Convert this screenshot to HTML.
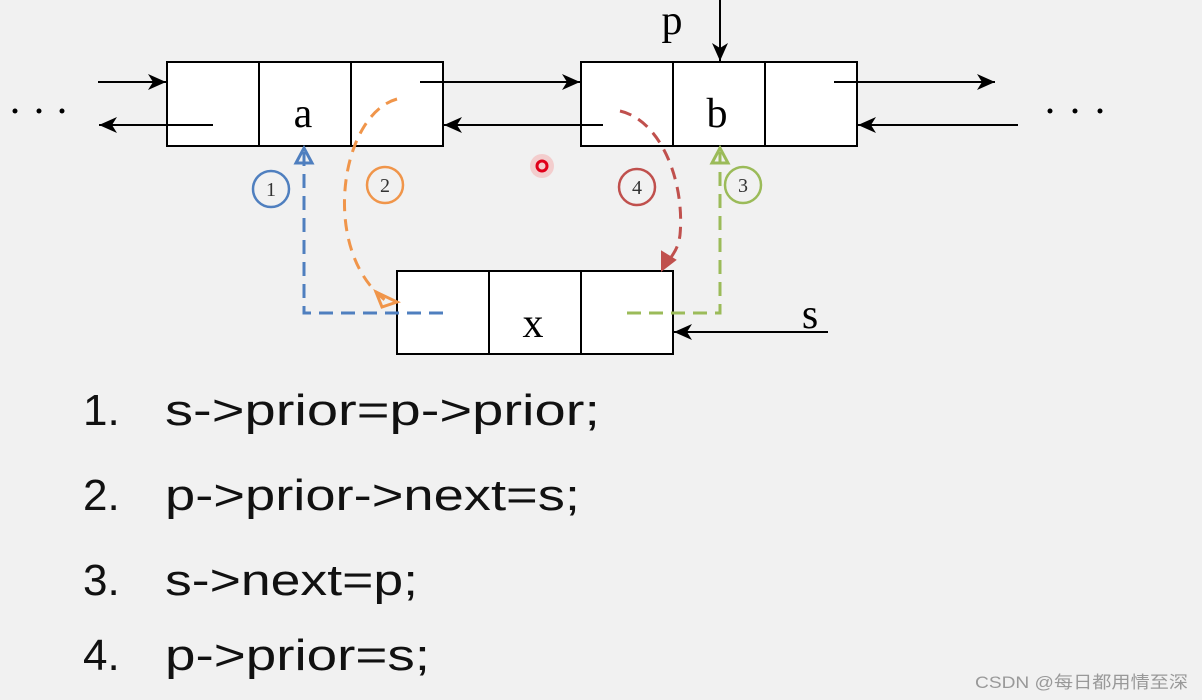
<!DOCTYPE html>
<html><head><meta charset="utf-8"><style>
html,body{margin:0;padding:0;background:#f1f1f1;width:1202px;height:700px;overflow:hidden}
</style></head><body>
<svg width="1202" height="700" xmlns="http://www.w3.org/2000/svg" style="position:absolute;left:0;top:0">
<defs>
<marker id="ab" markerWidth="20" markerHeight="16" refX="18" refY="8" orient="auto" markerUnits="userSpaceOnUse"><path d="M0,0 L18,8 L0,16 L5,8 z" fill="#000"/></marker>
</defs>
<g fill="#fff" stroke="#000" stroke-width="2">
<rect x="167" y="62" width="276" height="84"/><line x1="259" y1="62" x2="259" y2="146"/><line x1="351" y1="62" x2="351" y2="146"/>
<rect x="581" y="62" width="276" height="84"/><line x1="673" y1="62" x2="673" y2="146"/><line x1="765" y1="62" x2="765" y2="146"/>
<rect x="397" y="271" width="276" height="83"/><line x1="489" y1="271" x2="489" y2="354"/><line x1="581" y1="271" x2="581" y2="354"/>
</g>
<g stroke="#000" stroke-width="2" marker-end="url(#ab)">
<line x1="98" y1="82" x2="166" y2="82"/>
<line x1="213" y1="125" x2="99" y2="125"/>
<line x1="420" y1="82" x2="580" y2="82"/>
<line x1="603" y1="125" x2="444" y2="125"/>
<line x1="834" y1="82" x2="995" y2="82"/>
<line x1="1018" y1="125" x2="858" y2="125"/>
<line x1="720" y1="0" x2="720" y2="61"/>
<line x1="828" y1="332" x2="674" y2="332"/>
</g>
<g fill="#000"><circle cx="15" cy="111" r="2.5"/><circle cx="39" cy="111" r="2.5"/><circle cx="62" cy="111" r="2.5"/><circle cx="1050" cy="111" r="2.5"/><circle cx="1075" cy="111" r="2.5"/><circle cx="1100" cy="111" r="2.5"/></g>
<g font-family="Liberation Serif, serif" font-size="42" fill="#000" text-anchor="middle">
<text x="303" y="127">a</text><text x="717" y="127">b</text><text x="533" y="337">x</text>
<text x="672" y="34">p</text><text x="810" y="328">s</text>
</g>
<path d="M443,313 L304,313 L304,152" fill="none" stroke="#4f7fbf" stroke-width="3" stroke-dasharray="14,8"/>
<path d="M296,163 L304,148 L312,163 z" fill="none" stroke="#4f7fbf" stroke-width="3"/>
<circle cx="271" cy="189" r="18" fill="none" stroke="#4f7fbf" stroke-width="2.5"/>
<path d="M397,99 C340,115 320,250 385,300" fill="none" stroke="#f0954a" stroke-width="3" stroke-dasharray="12,8"/>
<path d="M376,292 L397,302 L382,307 z" fill="none" stroke="#f0954a" stroke-width="3"/>
<circle cx="385" cy="185" r="18" fill="none" stroke="#f0954a" stroke-width="2.5"/>
<path d="M620,111 C660,120 685,180 680,235 C678,250 672,255 668,262" fill="none" stroke="#c0504d" stroke-width="3" stroke-dasharray="12,8"/>
<path d="M662,270 L662,252 L675,260 z" fill="#c0504d" stroke="#c0504d" stroke-width="2"/>
<circle cx="637" cy="187" r="18" fill="none" stroke="#c0504d" stroke-width="2.5"/>
<path d="M627,313 L720,313 L720,152" fill="none" stroke="#9bbb59" stroke-width="3" stroke-dasharray="14,8"/>
<path d="M712,163 L720,148 L728,163 z" fill="none" stroke="#9bbb59" stroke-width="3"/>
<circle cx="743" cy="185" r="18" fill="none" stroke="#9bbb59" stroke-width="2.5"/>
<g font-family="Liberation Serif, serif" font-size="20" fill="#333" text-anchor="middle">
<text x="271" y="196">1</text><text x="385" y="192">2</text><text x="637" y="194">4</text><text x="743" y="192">3</text>
</g>
<circle cx="542" cy="166" r="12" fill="#f5b5b5" opacity="0.6"/>
<circle cx="542" cy="166" r="5" fill="none" stroke="#e0001a" stroke-width="3"/>
<g font-family="Liberation Sans, sans-serif" font-size="44" fill="#111">
<text x="83" y="425">1.</text><text x="165" y="425" textLength="435" lengthAdjust="spacingAndGlyphs">s-&gt;prior=p-&gt;prior;</text>
<text x="83" y="510">2.</text><text x="165" y="510" textLength="415" lengthAdjust="spacingAndGlyphs">p-&gt;prior-&gt;next=s;</text>
<text x="83" y="595">3.</text><text x="165" y="595" textLength="253" lengthAdjust="spacingAndGlyphs">s-&gt;next=p;</text>
<text x="83" y="670">4.</text><text x="165" y="670" textLength="265" lengthAdjust="spacingAndGlyphs">p-&gt;prior=s;</text>
</g>
<text x="975" y="688" font-family="Liberation Sans, 'Noto Sans CJK SC', sans-serif" font-size="17" fill="#999" textLength="213" lengthAdjust="spacingAndGlyphs">CSDN @每日都用情至深</text>
</svg>
</body></html>
